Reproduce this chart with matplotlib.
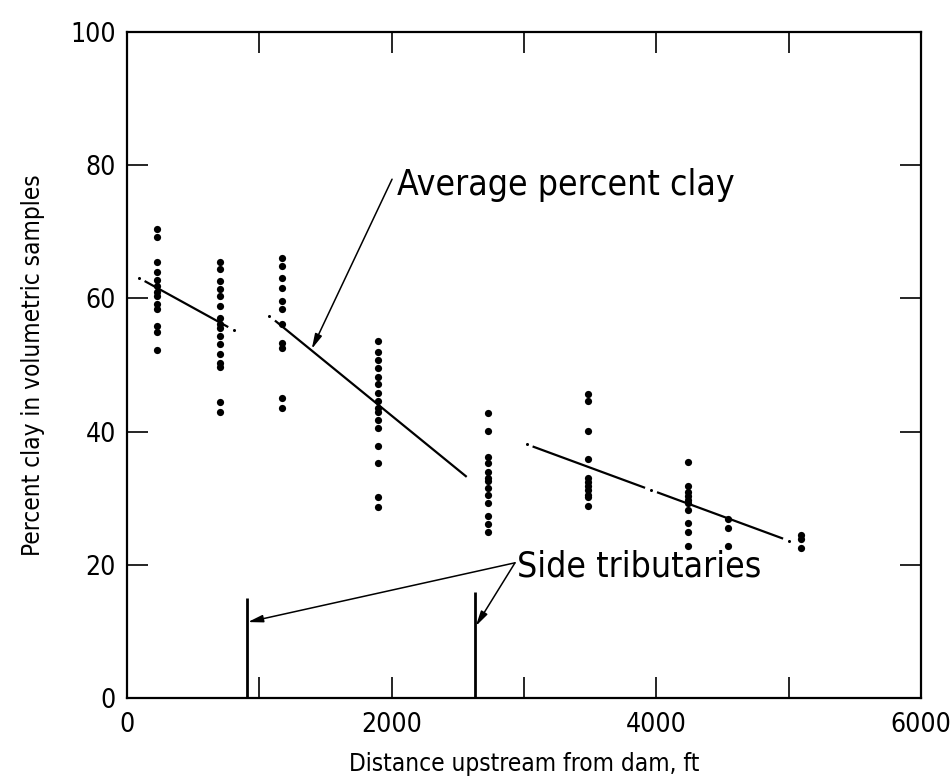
import numpy as np
import matplotlib
matplotlib.use("Agg")
import matplotlib.pyplot as plt
from matplotlib import font_manager

# Prefer the condensed cut of DejaVu Sans for the lettering when present
_fonts = font_manager.fontManager.ttflist
STRETCH = "condensed" if any(f.name == "DejaVu Sans" and f.stretch == "condensed"
                             for f in _fonts) else "normal"
plt.rcParams["font.family"] = ["DejaVu Sans"]
plt.rcParams["font.stretch"] = STRETCH

# Sampling stations (ft upstream from dam) and percent clay of each sample
stations = [230, 700, 1170, 1900, 2730, 3480, 4240, 4540, 5090]
clay_230 = [70.4, 69.2, 65.5, 64.0, 62.8, 61.8, 61.0, 60.3, 59.2, 58.4, 55.8, 55.0, 52.3]
clay_700 = [65.5, 64.4, 62.6, 61.4, 60.3, 58.9, 57.1, 56.1, 55.6, 54.3, 53.1, 51.7,
            50.3, 49.7, 44.5, 43.0]
clay_1170 = [66.1, 64.8, 63.1, 61.5, 59.6, 58.4, 56.1, 53.3, 52.6, 45.0, 43.6]
clay_1900 = [53.6, 52.0, 50.8, 49.5, 48.2, 47.2, 45.8, 44.6, 43.6, 43.0, 41.8, 40.5,
             37.8, 35.3, 30.2, 28.7]
clay_2730 = [42.8, 40.1, 36.2, 35.3, 34.0, 33.1, 32.6, 31.6, 30.5, 29.3, 27.4, 26.2, 25.0]
clay_3480 = [45.6, 44.6, 40.1, 35.9, 33.0, 32.5, 31.9, 31.3, 30.5, 30.2, 28.8]
clay_4240 = [35.4, 31.8, 31.0, 30.4, 29.8, 29.3, 28.2, 26.3, 24.9, 22.8]
clay_4540 = [26.9, 25.6, 22.8]
clay_5090 = [24.5, 23.8, 22.5]
clay_samples = [clay_230, clay_700, clay_1170, clay_1900, clay_2730,
                clay_3480, clay_4240, clay_4540, clay_5090]

# Average percent clay, drawn as three dash-dot reaches
avg_x_start = [88, 1073, 3020]
avg_y_start = [63.1, 57.4, 38.1]
avg_x_end = [810, 2567, 5003]
avg_y_end = [55.2, 33.2, 23.6]
avg_dots = [[88, 810], [1073], [3020, 3960, 5003]]

# Side tributary locations and marker heights
trib_x = [907, 2630]
trib_top = [15.0, 15.9]
trib_arrow_y = [11.4, 10.8]

x_ticks = [0, 2000, 4000, 6000]
x_minor = [1000, 3000, 5000]
y_ticks = [0, 20, 40, 60, 80, 100]

fig = plt.figure(figsize=(9.51, 7.82), dpi=100)
ax = fig.add_axes([127 / 951, 84 / 782, 794 / 951, 666 / 782])
ax.set_xlim(0, 6000)
ax.set_ylim(0, 100)

for sp in ax.spines.values():
    sp.set_linewidth(1.6)

# sample points
for xs, vals in zip(stations, clay_samples):
    ax.plot([xs] * len(vals), vals, "o", ms=5.2, color="black", mec="black", mew=0)

# average lines: dots at given positions, solid dashes between them
gap = 45.0  # ft
for x0, y0, x1, y1, dots in zip(avg_x_start, avg_y_start, avg_x_end, avg_y_end, avg_dots):
    slope = (y1 - y0) / (x1 - x0)
    f = lambda x: y0 + slope * (x - x0)
    breaks = sorted(set([x0, x1] + dots))
    for a, b in zip(breaks[:-1], breaks[1:]):
        a2 = a + gap if a in dots else a
        b2 = b - gap if b in dots else b
        ax.plot([a2, b2], [f(a2), f(b2)], color="black", lw=1.6, solid_capstyle="butt")
    ax.plot(dots, [f(d) for d in dots], "o", ms=2.2, color="black", mew=0)

# side tributaries
for tx, tt in zip(trib_x, trib_top):
    ax.plot([tx, tx], [0, tt], color="black", lw=2.0, solid_capstyle="butt")

arrow_kw = dict(arrowstyle="-|>,head_length=0.9,head_width=0.22", color="black",
                lw=1.1, shrinkA=0, shrinkB=0)
ax.annotate("", xy=(1396, 52.4), xytext=(2003, 77.9), arrowprops=arrow_kw)
ax.text(2040, 77.0, "Average percent clay", fontsize=25.5, va="center", ha="left")

for tx, ty in zip(trib_x, trib_arrow_y):
    ax.annotate("", xy=(tx + 6, ty), xytext=(2932, 20.3), arrowprops=arrow_kw)
ax.text(2947, 19.8, "Side tributaries", fontsize=25.5, va="center", ha="left")

# ticks: all inward, labels on selected values only
ax.set_xticks(x_ticks + x_minor)
ax.set_xticklabels([str(v) for v in x_ticks] + [""] * len(x_minor))
ax.set_yticks(y_ticks)
ax.set_yticklabels([str(v) for v in y_ticks])
ax.tick_params(direction="in", length=15, width=1.2, top=True, right=True,
               labelsize=19)
ax.tick_params(axis="x", pad=10)
ax.tick_params(axis="y", pad=8)
for lbl in ax.get_yticklabels():
    if lbl.get_text() == "100":
        lbl.set_y(101.6)
    if lbl.get_text() == "0":
        lbl.set_y(1.5)
for t in ax.xaxis.get_major_ticks():
    if t.get_loc() in (0, 6000):
        t.tick1line.set_visible(False)
        t.tick2line.set_visible(False)
for t in ax.yaxis.get_major_ticks():
    if t.get_loc() in (0, 100):
        t.tick1line.set_visible(False)
        t.tick2line.set_visible(False)

ax.set_xlabel("Distance upstream from dam, ft", fontsize=17.5, labelpad=10)
ax.set_ylabel("Percent clay in volumetric samples", fontsize=17.5, labelpad=18)

fig.savefig("out.png", dpi=100)
